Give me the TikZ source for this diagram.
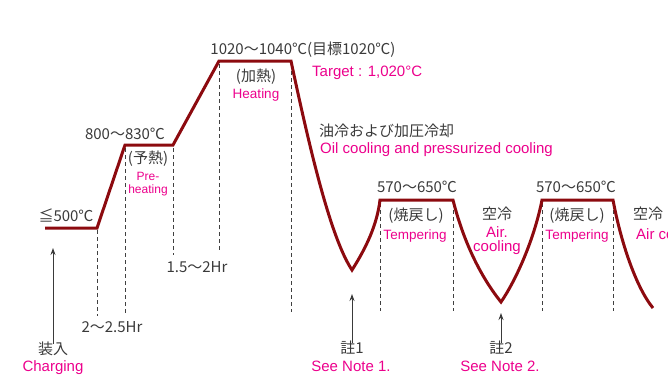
\documentclass[tikz,border=0pt]{standalone}
\usepackage{fontspec}
\usetikzlibrary{arrows.meta}
\newfontfamily\jpf{Noto Sans CJK JP}
\newfontfamily\enf{Liberation Sans}
\definecolor{curve}{HTML}{8C0A0F}
\definecolor{pk}{HTML}{EC008C}
\definecolor{gt}{HTML}{3A3A3A}
\definecolor{dsh}{HTML}{404040}
\tikzset{
  gtext/.style={font=\jpf\fontsize{15}{17}\selectfont, text=gt, inner sep=0pt, anchor=base},
  ptext/.style={font=\enf\fontsize{15}{17}\selectfont, text=pk, inner sep=0pt, anchor=base},
  psmall/.style={ptext, font=\enf\fontsize{13.5}{15}\selectfont},
  ptiny/.style={ptext, font=\enf\fontsize{12}{14}\selectfont},
  cycleline/.style={draw=curve, line width=3pt, line join=miter},
  guide/.style={draw=dsh, line width=0.9pt, dash pattern=on 4pt off 3pt},
  uparrow/.style={draw=gt, line width=0.9pt, -{Stealth[length=7pt,width=5pt]}}
}
\begin{document}
\begin{tikzpicture}[x=1pt,y=-1pt]
\useasboundingbox (0,0) rectangle (668,376);

% dashed guides
\foreach \x/\a/\b in {97/230/316, 125/148/315, 173/148/255, 219/64/250, 291/64/312,
                      380/203/311, 453/203/311, 542/203/311, 613/203/311}
  \draw[guide] (\x,\a) -- (\x,\b);

% heat treatment curve
\draw[cycleline] (45,228) -- (97,228) -- (125,145) -- (173,145) -- (219,61) -- (291,61)
  .. controls (312,160) and (332,240) .. (352,270)
  .. controls (366,248) and (377,225) .. (380,200)
  -- (453,200)
  .. controls (463,240) and (480,276) .. (501,302)
  .. controls (516,280) and (534,240) .. (542,200)
  -- (613,200)
  .. controls (622,248) and (638,290) .. (653,308);

% temperature labels
\node[gtext] (t500) at (66,221) {≦500℃};
\node[gtext] (t800) at (125,139) {800～830℃};
\node[gtext] (t1020) at (303,54) {1020～1040℃(目標1020℃)};
\node[gtext] (t570a) at (417,192) {570～650℃};
\node[gtext] (t570b) at (576,192) {570～650℃};

% stage labels
\node[gtext] (preJ) at (148,163) {(予熱)};
\node[ptiny] (preE1) at (148,180) {Pre-};
\node[ptiny] (preE2) at (148,193) {heating};
\node[gtext] (heatJ) at (256,81) {(加熱)};
\node[psmall] (heatE) at (256,98) {Heating};
\node[ptext, anchor=base west] (target) at (312,76) {Target : 1,020°C};
\node[gtext, anchor=base west] (oilJ) at (319,136) {油冷および加圧冷却};
\node[ptext, anchor=base west] (oilE) at (320,153) {Oil cooling and pressurized cooling};
\node[gtext] (temJa) at (416,220) {(焼戻し)};
\node[psmall] (temEa) at (415,239) {Tempering};
\node[gtext] (airJa) at (497,219) {空冷};
\node[ptext] (airEa1) at (497,237) {Air.};
\node[ptext] (airEa2) at (497,251) {cooling};
\node[gtext] (temJb) at (577,220) {(焼戻し)};
\node[psmall] (temEb) at (577,239) {Tempering};
\node[gtext, anchor=base west] (airJb) at (633,219) {空冷};
\node[ptext, anchor=base west] (airEb) at (636,239) {Air cooling};

% time labels
\node[gtext] (h2) at (112,332) {2～2.5Hr};
\node[gtext] (h15) at (197,272) {1.5～2Hr};

% bottom labels
\node[gtext] (chJ) at (53,354) {装入};
\node[ptext] (chE) at (53,371) {Charging};
\node[gtext] (n1J) at (352,353) {註1};
\node[ptext] (n1E) at (351,371) {See Note 1.};
\node[gtext] (n2J) at (501,353) {註2};
\node[ptext] (n2E) at (500,371) {See Note 2.};

% arrows
\coordinate (tipC) at (53,248);
\coordinate (tip1) at (352,294);
\coordinate (tip2) at (501,313);
\draw[uparrow] ([yshift=-3pt]chJ.north) -- (tipC);
\draw[uparrow] ([yshift=-3pt]n1J.north) -- (tip1);
\draw[uparrow] ([yshift=-3pt]n2J.north) -- (tip2);
\end{tikzpicture}
\end{document}
